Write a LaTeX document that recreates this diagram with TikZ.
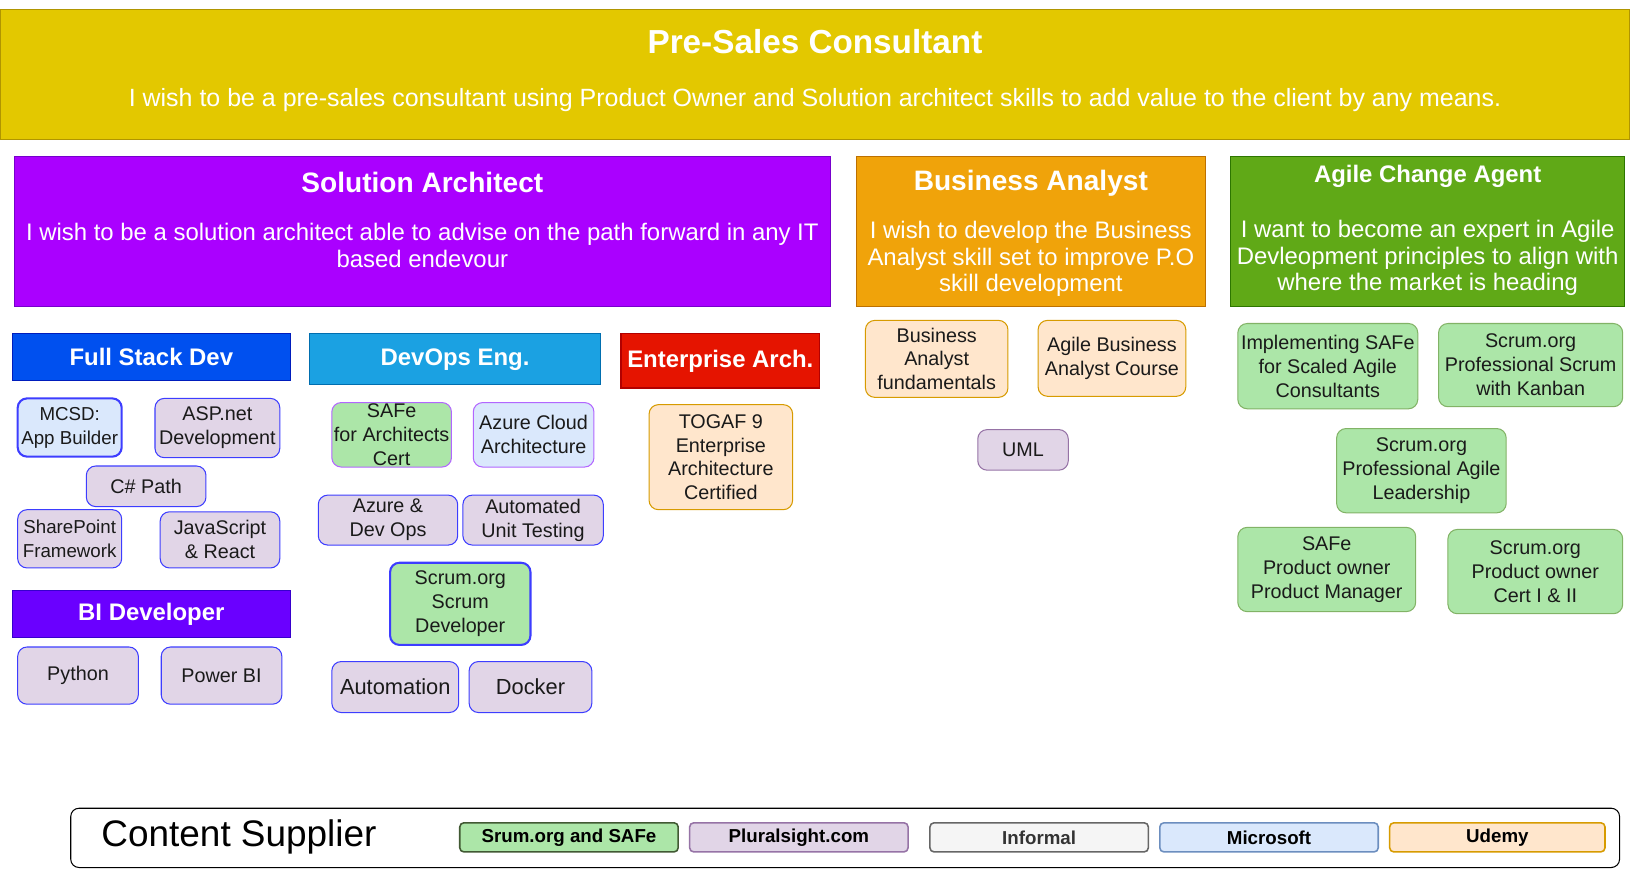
\documentclass[tikz,border=0pt]{standalone}
\usepackage{fontspec}
\setmainfont{Liberation Sans}
\usetikzlibrary{positioning}
\definecolor{presalesf}{HTML}{E3C800}
\definecolor{presalesd}{HTML}{B09500}
\definecolor{solarchf}{HTML}{AA00FF}
\definecolor{solarchd}{HTML}{7700CC}
\definecolor{busanaf}{HTML}{F0A30A}
\definecolor{busanad}{HTML}{BD7000}
\definecolor{agilef}{HTML}{60A917}
\definecolor{agiled}{HTML}{2D7600}
\definecolor{fullstf}{HTML}{0050EF}
\definecolor{fullstd}{HTML}{001DBC}
\definecolor{devopsf}{HTML}{1BA1E2}
\definecolor{devopsd}{HTML}{006EAF}
\definecolor{entarf}{HTML}{E51400}
\definecolor{entard}{HTML}{B20000}
\definecolor{bidevf}{HTML}{6A00FF}
\definecolor{bidevd}{HTML}{3700CC}
\definecolor{scrumf}{HTML}{ACE6A8}
\definecolor{scrumd}{HTML}{82B366}
\definecolor{plf}{HTML}{E1D5E7}
\definecolor{pld}{HTML}{9673A6}
\definecolor{inff}{HTML}{F5F5F5}
\definecolor{infd}{HTML}{666666}
\definecolor{msf}{HTML}{DAE8FC}
\definecolor{msd}{HTML}{6C8EBF}
\definecolor{udf}{HTML}{FFE6CC}
\definecolor{udd}{HTML}{D79B00}
\definecolor{blueline}{HTML}{3D3DFF}
\definecolor{violine}{HTML}{B266FF}
\definecolor{txtgray}{HTML}{1A1A1A}
\tikzset{
    sz/.style 2 args = {minimum width=#1pt, minimum height=#2pt},
    goalbox/.style = {rectangle, line width=1pt, inner sep=0pt},
    goaltitle/.style = {text=white, align=center, font=\bfseries\fontsize{27}{31}\selectfont},
    goaltext/.style = {text=white, align=center, font=\fontsize{23}{25.5}\selectfont},
    rolebox/.style = {rectangle, line width=1pt, inner sep=0pt, text=white, align=center, font=\bfseries\fontsize{23}{27}\selectfont},
    course/.style = {rectangle, rounded corners=9pt, line width=1pt, inner sep=1pt, align=center, text=txtgray, font=\fontsize{19}{23}\selectfont},
    coursep/.style = {course, fill=plf, draw=blueline},   % pluralsight
    courseg/.style = {course, fill=scrumf, draw=scrumd},  % scrum.org / safe
    coursem/.style = {course, fill=msf, draw=blueline},   % microsoft
    courseu/.style = {course, fill=udf, draw=udd},        % udemy
    legitem/.style = {rectangle, rounded corners=4pt, line width=1.5pt, inner sep=0pt, sz={210}{28}, font=\bfseries\fontsize{18}{20}\selectfont},
}
\begin{document}
\begin{tikzpicture}[x=1pt,y=-1pt]
%
\path[use as bounding box] (0,0) rectangle (1568,835.4);
%
% goals
\node[goalbox,fill=presalesf,draw=presalesd,sz={1566}{125}] at (783.5,71.5) (presales) {};
\node[goaltitle,font=\bfseries\fontsize{32}{36}\selectfont] at (783.5,40) (presalest) {Pre-Sales Consultant};
\node[goaltext,font=\fontsize{24}{27}\selectfont] at (783.5,96) (presalesx) {I wish to be a pre-sales consultant using Product Owner and Solution architect skills to add value to the client by any means.};
%
\node[goalbox,fill=solarchf,draw=solarchd,sz={784}{145}] at (406,222.5) (solarch) {};
\node[goaltitle] at (406,175) (solarcht) {Solution Architect};
\node[goaltext] at (406,236) (solarchx) {I wish to be a solution architect able to advise on the path forward in any IT\\based endevour};
%
\node[goalbox,fill=busanaf,draw=busanad,sz={336}{145}] at (991,222.5) (busana) {};
\node[goaltitle] at (991,176) (busanat) {Business Analyst};
\node[goaltext] at (991,249) (busanax) {I wish to develop the Business\\Analyst skill set to improve P.O\\skill development};
%
\node[goalbox,fill=agilef,draw=agiled,sz={379}{145}] at (1372.5,222.5) (agile) {};
\node[goaltitle,font=\bfseries\fontsize{23}{27}\selectfont] at (1372.5,170) (agilet) {Agile Change Agent};
\node[goaltext] at (1372.5,248) (agilex) {I want to become an expert in Agile\\Devleopment principles to align with\\where the market is heading};
%
% roles
\node[rolebox,fill=fullstf,draw=fullstd,sz={267}{45}] at (145.5,343.5) (fullst) {Full Stack Dev};
\node[rolebox,fill=devopsf,draw=devopsd,sz={279}{49}] at (437.5,345.5) (devops) {DevOps Eng.};
\node[rolebox,fill=entarf,draw=entard,sz={191}{52}] at (692.5,347) (entar) {Enterprise Arch.};
\node[rolebox,fill=bidevf,draw=bidevd,sz={267}{45}] at (145.5,590.5) (bidev) {BI Developer};
%
% full stack courses
\node[coursem,line width=2pt,sz={100}{56},font=\fontsize{18}{23}\selectfont] at (67,411) (mcsd) {MCSD:\\App Builder};
\node[coursep,sz={120}{57}] at (209,411.5) (aspnet) {ASP.net\\Development};
\node[coursep,sz={115}{39}] at (140.5,467.5) (csharp) {C\# Path};
\node[coursep,sz={100}{56},font=\fontsize{18}{23}\selectfont] at (67,518) (sharep) {SharePoint\\Framework};
\node[coursep,sz={115}{54}] at (211.5,519) (jsreact) {JavaScript\\\& React};
\node[coursep,sz={116}{55}] at (75,649.5) (python) {Python};
\node[coursep,sz={116}{55}] at (213,649.5) (powerbi) {Power BI};
%
% devops courses
\node[courseg,draw=violine,sz={115}{62}] at (376.5,418) (safearch) {SAFe\\for Architects\\Cert};
\node[coursem,draw=violine,sz={116}{62}] at (513,418) (azcloud) {Azure Cloud\\Architecture};
\node[coursep,sz={134}{48}] at (373,500) (azdevops) {Azure \&\\Dev Ops};
\node[coursep,sz={135}{48}] at (512.5,500) (unittest) {Automated\\Unit Testing};
\node[courseg,draw=blueline,line width=2pt,sz={135}{79}] at (442.5,580.5) (scrumdev) {Scrum.org\\Scrum\\Developer};
\node[coursep,sz={122}{49},font=\fontsize{21}{25}\selectfont] at (380,660.5) (automat) {Automation};
\node[coursep,sz={118}{49},font=\fontsize{21}{25}\selectfont] at (510,660.5) (docker) {Docker};
%
% enterprise
\node[courseu,sz={138}{101}] at (693,439.5) (togaf) {TOGAF 9\\Enterprise\\Architecture\\Certified};
%
% business analyst
\node[courseu,sz={137}{74}] at (900.5,345) (bafund) {Business\\Analyst\\fundamentals};
\node[courseu,sz={142}{73}] at (1069,344.5) (agileba) {Agile Business\\Analyst Course};
\node[course,fill=plf,draw=pld,sz={87}{39}] at (983.5,432.5) (uml) {UML};
%
% agile change agent
\node[courseg,inner sep=0pt,sz={173}{82}] at (1276.5,352) (implsafe) {Implementing SAFe\\for Scaled Agile\\Consultants};
\node[courseg,inner sep=0pt,sz={177}{80}] at (1471.5,351) (kanban) {Scrum.org\\Professional Scrum\\with Kanban};
\node[courseg,sz={163}{81}] at (1366.5,452.5) (leader) {Scrum.org\\Professional Agile\\Leadership};
\node[courseg,sz={171}{81}] at (1275.5,547.5) (safepo) {SAFe\\Product owner\\Product Manager};
\node[courseg,sz={168}{81}] at (1476,549.5) (certpo) {Scrum.org\\Product owner\\Cert I \& II};
%
% legend
\node[rectangle,rounded corners=8pt,draw=black,line width=1pt,fill=white,sz={1489}{57}] at (812.5,805.5) (legend) {};
\node[anchor=west,font=\fontsize{35.5}{40}\selectfont] at (94,805) (legendt) {Content Supplier};
\node[legitem,fill=scrumf,draw=black!50!scrumd] at (547,805) (legscrum) {Srum.org and SAFe};
\node[legitem,fill=plf,draw=pld] at (768,805) (legpl) {Pluralsight.com};
\node[legitem,fill=inff,draw=infd,text=black!80] at (999,805) (leginf) {Informal};
\node[legitem,fill=msf,draw=msd] at (1220,805) (legms) {Microsoft};
\node[legitem,fill=udf,draw=udd,sz={207}{28}] at (1439.5,805) (legud) {Udemy};
%
\end{tikzpicture}
\end{document}
